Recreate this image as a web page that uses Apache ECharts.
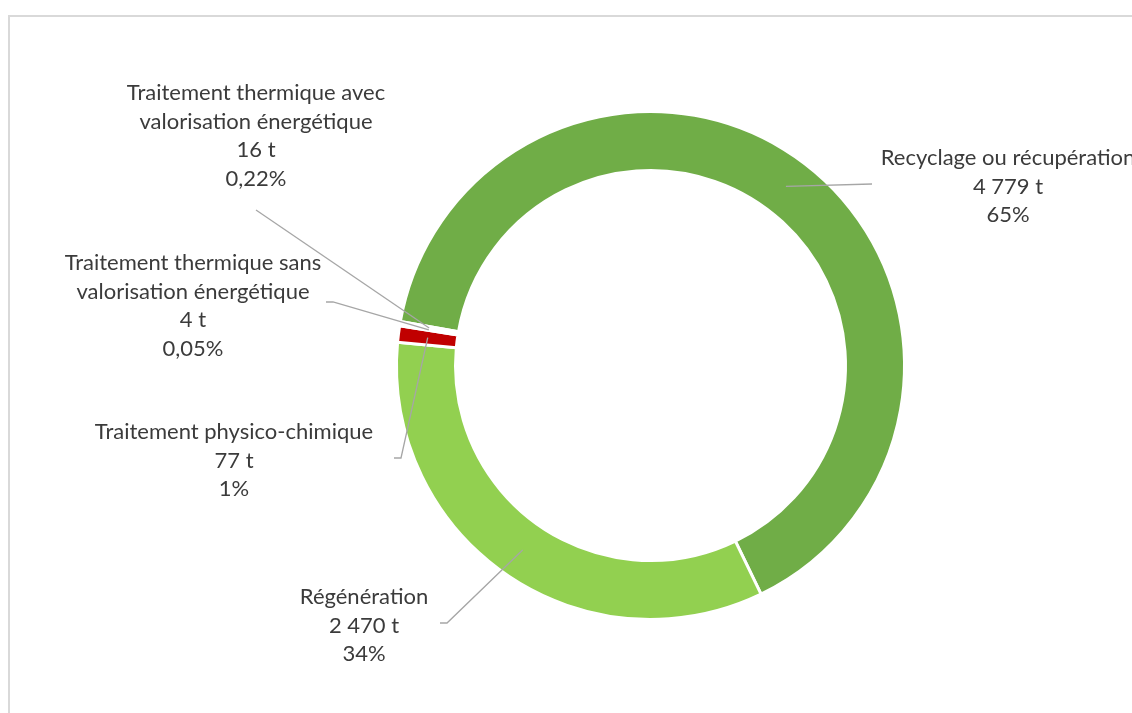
<!DOCTYPE html>
<html>
<head>
<meta charset="utf-8">
<script src="https://cdn.jsdelivr.net/npm/echarts@6/dist/echarts.min.js"></script>
<style>
html,body{margin:0;padding:0;background:#fff;}
#chart{width:1132px;height:713px;}
</style>
</head>
<body>
<div id="chart"></div>
<script>
// ---- data ----
var categories = [
  'Recyclage ou récupération',
  'Régénération',
  'Traitement physico-chimique',
  'Traitement thermique sans\nvalorisation énergétique',
  'Traitement thermique avec\nvalorisation énergétique'
];
var tonnes = [4779, 2470, 77, 4, 16];
var colors = ['#70AD47', '#92D050', '#C00000', '#FFFFFF', '#FFFFFF'];

// ---- layout (label anchors: centre x, top y; leader-line bend/end points) ----
var center = [650.5, 365.5];
var radii = [195, 254];
var labelAnchors = [
  [1008, 144],
  [364, 583],
  [234, 418],
  [193, 249],
  [256, 79]
];
var leaderEnds = [
  [[872, 184], [872, 184]],
  [[447, 623], [440, 623]],
  [[401, 458], [394, 458]],
  [[333, 302], [326, 302]],
  [[256, 210], [256, 210]]
];

var total = tonnes.reduce(function (a, b) { return a + b; }, 0);
function fmtTonnes(v) {
  return String(v).replace(/\B(?=(\d{3})+(?!\d))/g, ' ') + ' t';
}
function fmtPct(v) {
  var p = v / total * 100;
  if (p < 1) return p.toFixed(2).replace('.', ',') + '%';
  return Math.round(p) + '%';
}

var chart = echarts.init(document.getElementById('chart'), null, {renderer: 'canvas'});
var midR = (radii[0] + radii[1]) / 2;
var pieData = categories.map(function (c, i) {
  return {name: c, value: tonnes[i], itemStyle: {color: colors[i]}};
});

chart.setOption({
  animation: false,
  backgroundColor: '#ffffff',
  graphic: [{
    type: 'rect',
    shape: {x: 9, y: 16, width: 1160, height: 760},
    style: {fill: 'none', stroke: '#d9d9d9', lineWidth: 2},
    silent: true
  }],
  series: [{
    type: 'pie',
    z: 2,
    center: center,
    radius: radii,
    startAngle: 170,
    clockwise: true,
    avoidLabelOverlap: false,
    data: pieData,
    itemStyle: {borderColor: '#ffffff', borderWidth: 3},
    label: {show: false},
    labelLine: {show: false},
    emphasis: {disabled: true},
    silent: true
  }, {
    type: 'pie',
    z: 5,
    center: center,
    radius: radii,
    startAngle: 170,
    clockwise: true,
    avoidLabelOverlap: false,
    silent: true,
    data: categories.map(function (c, i) {
      return {name: c, value: tonnes[i]};
    }),
    itemStyle: {color: 'rgba(0,0,0,0)', borderWidth: 0},
    label: {
      show: true,
      position: 'outside',
      fontFamily: 'Lato',
      fontSize: 22,
      lineHeight: 28.5,
      color: '#3b3b3b',
      align: 'center',
      formatter: function (p) {
        return p.name + '\n' + fmtTonnes(p.value) + '\n' + fmtPct(p.value);
      }
    },
    labelLine: {
      show: true,
      length: 20,
      length2: 20,
      lineStyle: {color: '#a6a6a6', width: 1.3}
    },
    emphasis: {disabled: true},
    labelLayout: function (params) {
      var i = params.dataIndex;
      var p0 = params.labelLinePoints ? params.labelLinePoints[0] : center;
      var dx = p0[0] - center[0], dy = p0[1] - center[1];
      var d = Math.sqrt(dx * dx + dy * dy) || 1;
      var start = [center[0] + dx / d * midR, center[1] + dy / d * midR];
      return {
        x: labelAnchors[i][0],
        y: labelAnchors[i][1],
        align: 'center',
        verticalAlign: 'top',
        labelLinePoints: [start, leaderEnds[i][0], leaderEnds[i][1]]
      };
    }
  }]
});
</script>
</body>
</html>
